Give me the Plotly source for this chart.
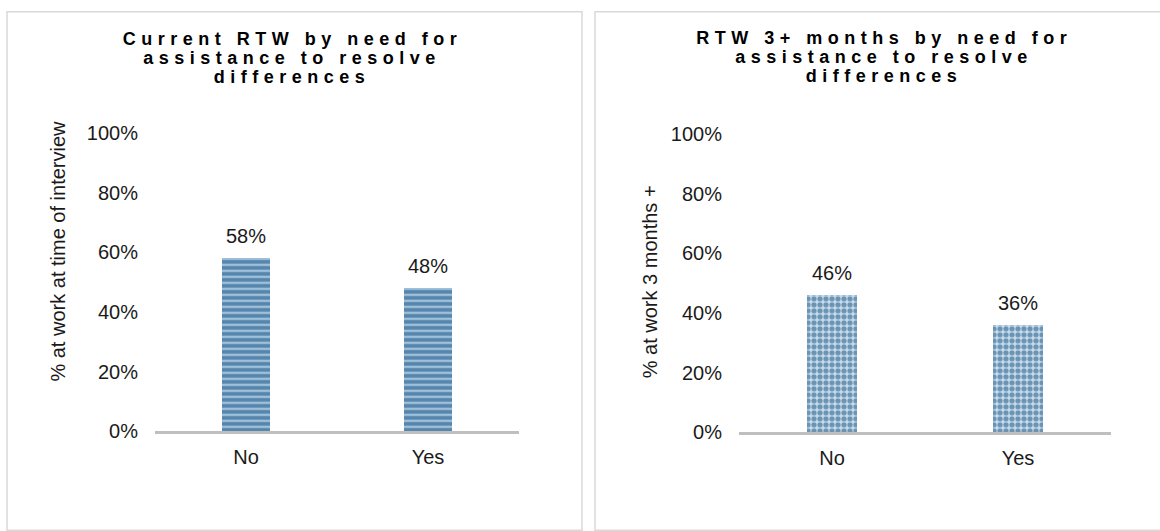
import plotly.graph_objects as go

categories = ["No", "Yes"]
current_rtw = [0.58, 0.48]
rtw_3months = [0.46, 0.36]
y_ticks = [0, 0.2, 0.4, 0.6, 0.8, 1.0]
y_tick_labels = ["0%", "20%", "40%", "60%", "80%", "100%"]

title_left_lines = ["Current RTW by need for", "assistance to resolve", "differences"]
title_right_lines = ["RTW 3+ months by need for", "assistance to resolve", "differences"]
ytitle_left = "% at work at time of interview"
ytitle_right = "% at work 3 months +"

W, H = 1160, 531
FONT = "Liberation Sans, Arial, sans-serif"
TXT = "#1a1a1a"
TITLE_SIZE = 18
TITLE_SPACING = "5.5px"

def px_x(p):
    return p / W

def px_y(p):
    return (H - p) / H

fig = go.Figure()

fig.add_trace(go.Bar(
    x=categories, y=current_rtw, xaxis="x", yaxis="y", width=0.265,
    marker=dict(color="#9fc0db", line=dict(width=0),
                pattern=dict(shape="-", fgcolor="#0e4a7e", bgcolor="#9fc0db",
                             size=6, solidity=0.6, fillmode="overlay")),
    hoverinfo="skip", showlegend=False))

fig.add_trace(go.Bar(
    x=categories, y=rtw_3months, xaxis="x2", yaxis="y2", width=0.27,
    marker=dict(color="#c8dcec", line=dict(width=0),
                pattern=dict(shape=".", fgcolor="#0d4a7c", bgcolor="#c8dcec",
                             size=6, solidity=0.6, fillmode="overlay")),
    hoverinfo="skip", showlegend=False))

annotations = []
for xa, ya, vals in (("x", "y", current_rtw), ("x2", "y2", rtw_3months)):
    for c, v in zip(categories, vals):
        annotations.append(dict(
            x=c, y=v, xref=xa, yref=ya, text=f"{round(v * 100)}%",
            showarrow=False, yanchor="bottom", yshift=9,
            font=dict(family=FONT, size=20, color=TXT)))

# titles, one annotation per line
for lines, cx, y0 in ((title_left_lines, 292, 29.2), (title_right_lines, 884, 28.2)):
    for i, line in enumerate(lines):
        annotations.append(dict(
            x=px_x(cx), y=px_y(y0 + 19.8 * i), xref="paper", yref="paper",
            text=line, showarrow=False, xanchor="center", yanchor="middle",
            font=dict(family=FONT, size=TITLE_SIZE, color="#000", weight="bold")))

# axis titles
annotations.append(dict(x=px_x(58), y=px_y(251), xref="paper", yref="paper",
                        text=ytitle_left, showarrow=False, textangle=-90,
                        xanchor="center", yanchor="middle",
                        font=dict(family=FONT, size=20, color=TXT)))
annotations.append(dict(x=px_x(650), y=px_y(283), xref="paper", yref="paper",
                        text=ytitle_right, showarrow=False, textangle=-90,
                        xanchor="center", yanchor="middle",
                        font=dict(family=FONT, size=20, color=TXT)))

shapes = [
    dict(type="rect", xref="paper", yref="paper",
         x0=px_x(7), x1=px_x(582), y0=-0.02, y1=px_y(0.8),
         line=dict(color="#d9d9d9", width=1.5), fillcolor="rgba(0,0,0,0)", layer="below"),
    dict(type="rect", xref="paper", yref="paper",
         x0=px_x(595), x1=1.02, y0=-0.02, y1=px_y(0.8),
         line=dict(color="#d9d9d9", width=1.5), fillcolor="rgba(0,0,0,0)", layer="below"),
]

xcommon = dict(type="category", showgrid=False, zeroline=False, showline=True,
               linecolor="#bfbfbf", linewidth=3, ticks="", ticklabelstandoff=6,
               tickfont=dict(family=FONT, size=20, color=TXT), fixedrange=True)
ycommon = dict(range=[0, 1], tickvals=y_ticks, ticktext=y_tick_labels,
               showgrid=False, zeroline=False, showline=False, ticks="",
               ticklabelstandoff=16,
               tickfont=dict(family=FONT, size=20, color=TXT), fixedrange=True)

fig.update_layout(
    width=W, height=H, margin=dict(l=0, r=0, t=0, b=0),
    paper_bgcolor="white", plot_bgcolor="white",
    xaxis=dict(domain=[px_x(155), px_x(519)], anchor="y", **xcommon),
    yaxis=dict(domain=[px_y(438.5), px_y(127.1)], anchor="x", **ycommon),
    xaxis2=dict(domain=[px_x(739), px_x(1111)], anchor="y2", **xcommon),
    yaxis2=dict(domain=[px_y(439.6), px_y(128.1)], anchor="x2", **ycommon),
    annotations=annotations, shapes=shapes, bargap=0.0,
)

post = """
document.body.style.margin = '0';
document.body.style.overflow = 'hidden';
var gd = document.getElementById('{plot_id}');
var titleLines = %s;
function spaceTitles(){
  gd.querySelectorAll('text.annotation-text').forEach(function(t){
    if (titleLines.indexOf(t.textContent) >= 0) {
      t.setAttribute('letter-spacing', '%s');
      t.style.letterSpacing = '%s';
    }
  });
}
spaceTitles();
if (gd.on) { gd.on('plotly_afterplot', spaceTitles); }
""" % (str(title_left_lines + title_right_lines), TITLE_SPACING, TITLE_SPACING)

fig.write_html("out.html", post_script=post, config={"displayModeBar": False})
